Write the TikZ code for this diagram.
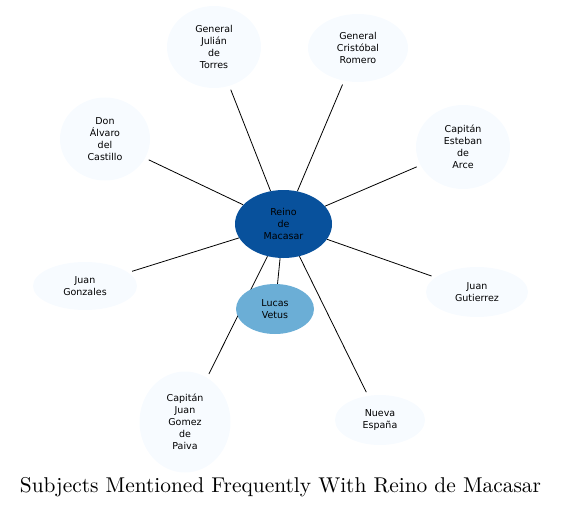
\documentclass[tikz,border=0pt]{standalone}
\usepackage{fontspec}
\newfontfamily\nodefont{DejaVu Sans}
\newfontfamily\titlefont{lmroman10-regular.otf}
\usetikzlibrary{shapes.geometric,backgrounds}
\definecolor{hub}{HTML}{08519C}
\definecolor{near}{HTML}{6BAED6}
\definecolor{far}{HTML}{F7FBFF}

\begin{document}
\begin{tikzpicture}[x=1pt,y=-1pt,
    subj/.style={ellipse,fill=far,inner sep=0pt,align=center,
      font=\nodefont\fontsize{9.5}{12}\selectfont},
    link/.style={black,line width=0.8pt}]
  \useasboundingbox (0,0) rectangle (561,508);

  % Centre and close subject
  \node[subj,fill=hub,minimum width=97,minimum height=68] (reino) at (283.5,224) {Reino\\de\\Macasar};
  \node[subj,fill=near,minimum width=78,minimum height=50] (lucas) at (275,309) {Lucas\\Vetus};

  % Outer subjects
  \node[subj,minimum width=94,minimum height=82] (torres) at (214,47) {General\\Julián\\de\\Torres};
  \node[subj,minimum width=100,minimum height=68] (romero) at (358,48) {General\\Cristóbal\\Romero};
  \node[subj,minimum width=90,minimum height=83] (castillo) at (105,139) {Don\\Álvaro\\del\\Castillo};
  \node[subj,minimum width=94,minimum height=84] (arce) at (463,147) {Capitán\\Esteban\\de\\Arce};
  \node[subj,minimum width=104,minimum height=48] (gonzales) at (85,286) {Juan\\Gonzales};
  \node[subj,minimum width=102,minimum height=50] (gutierrez) at (477,292) {Juan\\Gutierrez};
  \node[subj,minimum width=91,minimum height=101] (paiva) at (185,422) {Capitán\\Juan\\Gomez\\de\\Paiva};
  \node[subj,minimum width=90,minimum height=50] (espana) at (380,420) {Nueva\\España};

  % Links, under the nodes
  \begin{scope}[on background layer]
    \foreach \s in {torres,romero,castillo,arce,gonzales,gutierrez,paiva,espana}
      \draw[link,shorten >=4pt] (reino) -- (\s);
    \draw[link] (reino) -- (lucas);
  \end{scope}

  % Title
  \node[font=\titlefont\fontsize{21.4}{26}\selectfont] (title) at (280.5,487) {Subjects Mentioned Frequently With Reino de Macasar};
\end{tikzpicture}
\end{document}
